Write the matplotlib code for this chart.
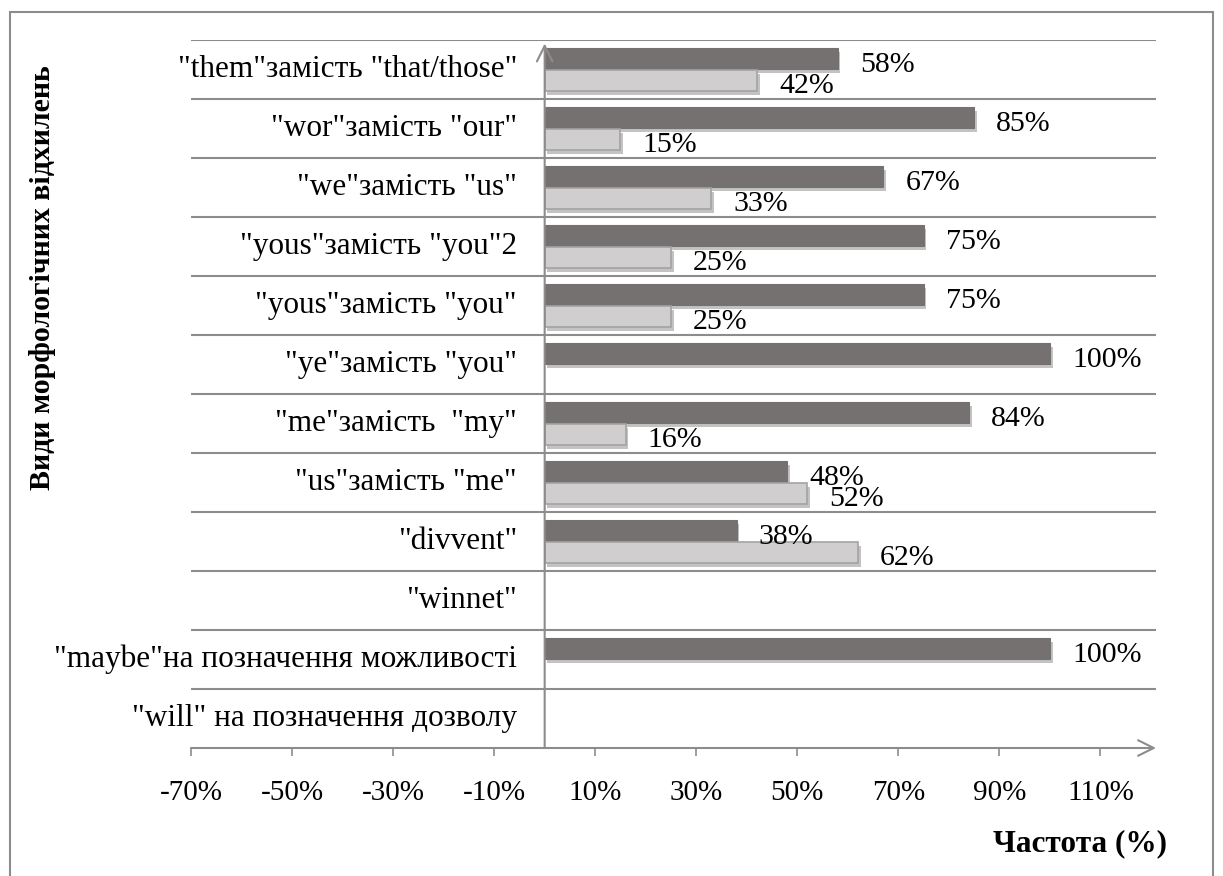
import numpy as np
import matplotlib
matplotlib.use("Agg")
import matplotlib.pyplot as plt
import matplotlib.patheffects as pe
from matplotlib.patches import Rectangle

# categories, top to bottom
categories = [
    '"them"замість "that/those"',
    '"wor"замість "our"',
    '"we"замість "us"',
    '"yous"замість "you"2',
    '"yous"замість "you"',
    '"ye"замість "you"',
    '"me"замість  "my"',
    '"us"замість "me"',
    '"divvent"',
    '"winnet"',
    '"maybe"на позначення можливості',
    '"will" на позначення дозволу',
]
# None = no bar drawn
dark_vals = [58, 85, 67, 75, 75, 100, 84, 48, 38, None, 100, None]
light_vals = [42, 15, 33, 25, 25, None, 16, 52, 62, None, None, None]
tick_vals = [-70, -50, -30, -10, 10, 30, 50, 70, 90, 110]

DARK = "#767171"
LIGHT = "#d0cece"
EDGE = "#a3a3a3"
AXIS = "#8c8c8c"

plt.rcParams["font.family"] = ["Liberation Serif", "DejaVu Serif"]

fig = plt.figure(figsize=(12.23, 8.76), dpi=100)
W, H = 1223, 876
ax = fig.add_axes([191 / W, 128 / H, (1156 - 191) / W, (836 - 128) / H])

n = len(categories)
ys = np.arange(n)
off, bh = 0.19, 0.36
shadow = [pe.SimplePatchShadow(offset=(2, -3), shadow_rgbFace="#555555", alpha=0.35), pe.Normal()]

for i in range(n):
    d = dark_vals[i]
    l = light_vals[i]
    if d is not None:
        b = ax.barh(ys[i] - off, d, height=bh, color=DARK, edgecolor=DARK, lw=0.8, zorder=3)
        for p in b:
            p.set_path_effects(shadow)
        ax.annotate(f"{d}%", (d, ys[i] - off), xytext=(16, -4.5), textcoords="offset points",
                    ha="left", va="center", fontsize=21.5, zorder=5)
    if l is not None:
        b = ax.barh(ys[i] + off, l, height=bh, color=LIGHT, edgecolor=EDGE, lw=1.2, zorder=3)
        for p in b:
            p.set_path_effects(shadow)
        ax.annotate(f"{l}%", (l, ys[i] + off), xytext=(16, -4), textcoords="offset points",
                    ha="left", va="center", fontsize=21.5, zorder=5)
    ax.text(-5.5, ys[i], categories[i], ha="right", va="center", fontsize=22.5)

# horizontal separators between categories
for yb in np.arange(-0.5, n - 1, 1.0):
    ax.axhline(yb, color=AXIS, lw=1.5, zorder=1)

ax.set_xlim(-70, 121)
ax.set_ylim(n - 0.5, -0.5)

for s in ax.spines.values():
    s.set_visible(False)
ax.set_yticks([])
ax.set_xticks(tick_vals)
ax.set_xticklabels([f"{t}%" for t in tick_vals], fontsize=21)
ax.tick_params(axis="x", length=6, width=1.2, color=AXIS, pad=17)

# axes with open arrowheads
ax.annotate("", xy=(121, n - 0.5), xytext=(-70, n - 0.5),
            arrowprops=dict(arrowstyle="->", color=AXIS, lw=1.5, mutation_scale=28,
                            shrinkA=0, shrinkB=0), annotation_clip=False)
ax.annotate("", xy=(0, -0.44), xytext=(0, n - 0.5),
            arrowprops=dict(arrowstyle="->", color=AXIS, lw=1.5, mutation_scale=28,
                            shrinkA=0, shrinkB=0), annotation_clip=False, zorder=4)

fig.text(43 / W, 1 - 278 / H, "Види морфологічних відхилень", rotation=90,
         ha="center", va="center", fontsize=21.5, fontweight="bold")
fig.text(1080 / W, 1 - 844 / H, "Частота (%)", ha="center", va="center",
         fontsize=22.5, fontweight="bold")

# outer frame
fig.patches.append(Rectangle((10 / W, -0.05), (1213 - 10) / W, 1 - 12 / H + 0.05,
                             transform=fig.transFigure, fill=False, edgecolor=AXIS, lw=1.5))

fig.savefig("out.png", dpi=100)
